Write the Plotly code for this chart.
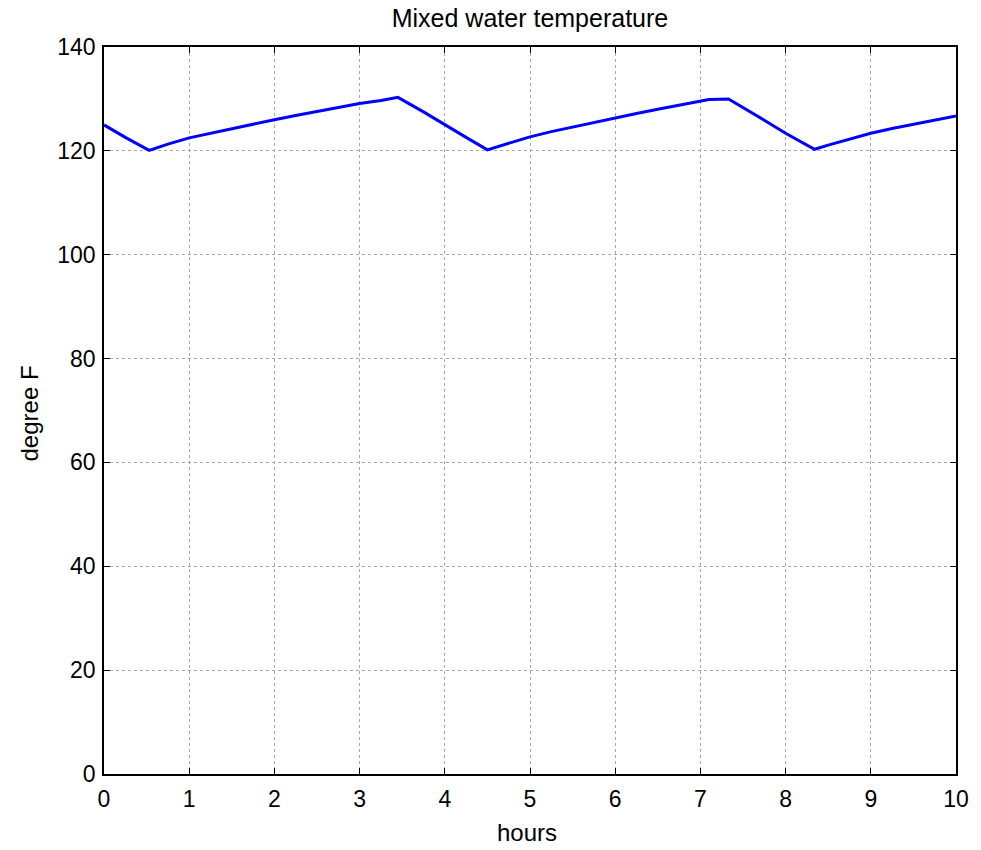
import plotly.graph_objects as go

# Mixed water temperature over a 10 hour run (hours, degree F)
hours = [0.0, 0.25, 0.53, 0.75, 1.0, 1.25, 1.5, 1.75, 2.0, 2.25, 2.5, 2.75,
         3.0, 3.25, 3.35, 3.45, 3.75, 4.0, 4.25, 4.5, 4.75, 5.0, 5.25, 5.5,
         5.75, 6.0, 6.25, 6.5, 6.75, 7.0, 7.1, 7.33, 7.5, 7.75, 8.0, 8.34,
         8.5, 8.75, 9.0, 9.25, 9.5, 9.75, 10.0]
temp_f = [125.0, 122.6, 120.1, 121.3, 122.5, 123.4, 124.3, 125.2, 126.0, 126.8,
          127.6, 128.4, 129.1, 129.7, 130.0, 130.3, 127.5, 125.0, 122.6, 120.2,
          121.5, 122.7, 123.7, 124.6, 125.5, 126.4, 127.2, 128.0, 128.8, 129.6,
          129.9, 130.0, 128.4, 125.9, 123.4, 120.3, 121.1, 122.3, 123.4, 124.3,
          125.1, 126.0, 126.7]

x_ticks = list(range(0, 11))
y_ticks = list(range(0, 141, 20))

FONT = "Liberation Sans, Arial"

fig = go.Figure()
fig.add_trace(go.Scatter(
    x=hours, y=temp_f, mode="lines",
    line=dict(color="#0000ff", width=3),
    showlegend=False,
))

axis_common = dict(
    showline=True, linecolor="#000000", linewidth=1.5, mirror="allticks",
    ticks="inside", ticklen=6, tickwidth=1.2, tickcolor="#000000",
    showgrid=True, gridcolor="#a8a8a8", griddash="dot", gridwidth=1,
    zeroline=False,
    tickfont=dict(family=FONT, size=23, color="#000000"),
)

fig.update_xaxes(
    range=[0, 10], tickvals=x_ticks, ticktext=[str(v) for v in x_ticks],
    ticklabelstandoff=4,
    **axis_common,
)
fig.update_yaxes(
    range=[0, 140], tickvals=y_ticks, ticktext=[str(v) for v in y_ticks],
    ticklabelstandoff=2,
    **axis_common,
)

fig.update_layout(
    width=981, height=850,
    margin=dict(l=104, r=20, t=47, b=76),
    paper_bgcolor="#ffffff", plot_bgcolor="#ffffff",
    title=dict(text="Mixed water temperature", xref="paper", x=0.5,
               xanchor="center", y=1 - 18 / 850, yanchor="middle",
               font=dict(family=FONT, size=25, color="#000000")),
    annotations=[
        dict(text="hours", xref="paper", yref="paper", x=0.5, y=0,
             xanchor="center", yanchor="middle", yshift=-58, xshift=-3,
             showarrow=False,
             font=dict(family=FONT, size=24, color="#000000")),
        dict(text="degree F", xref="paper", yref="paper", x=0, y=0.5,
             xanchor="center", yanchor="middle", xshift=-75, yshift=-3,
             textangle=-90, showarrow=False,
             font=dict(family=FONT, size=24, color="#000000")),
    ],
)

fig.write_html("out.html")
